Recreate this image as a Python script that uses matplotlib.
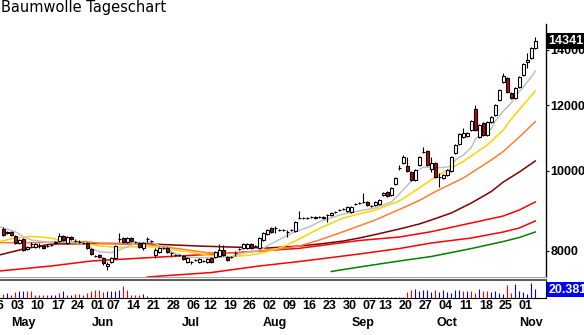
import numpy as np
import pandas as pd
import matplotlib
matplotlib.use("Agg")
import matplotlib.pyplot as plt
from matplotlib.patches import Rectangle
from matplotlib.ticker import NullLocator
from matplotlib.transforms import blended_transform_factory

# trading calendar, US exchange holidays left out
holidays = ["2010-05-31", "2010-07-05", "2010-09-06"]
days = pd.bdate_range("2010-04-26", "2010-11-04")
days = days[~days.isin(pd.to_datetime(holidays))]

# daily OHLC from Apr 28 on
opens = [8503, 8410, 8433, 8339, 8179, 8270, 8043, 8150, 8088, 8110, 8110, 8105, 8130, 8179, 8224, 8339,
         8179, 8316, 8220, 8200, 8179, 8179, 8043, 7890, 7911, 7845, 7673, 7758, 7845, 8265, 8293, 8202,
         8293, 8205, 8179, 8066, 8265, 8220, 7911, 7977, 8060, 8066, 7960, 7915, 7910, 7889, 7758, 7760,
         7800, 7758, 7775, 7758, 7845, 7867, 7889, 8021, 7867, 7865, 7950, 8040, 8066, 8066, 8156, 8110,
         8066, 8247, 8386, 8527, 8525, 8480, 8475, 8430, 8480, 8456, 8765, 8770, 8765, 8790, 8792, 8790,
         8768, 8840, 8841, 8910, 8960, 8985, 8939, 8914, 9110, 9135, 9160, 9166, 9060, 9090, 9115, 9346,
         9424, 9346, 9636, 10070, 10215, 10130, 9962, 9743, 10158, 10530, 10561, 10046, 10215, 9820, 9798, 9880,
         9990, 10503, 10768, 10979, 11009, 11195, 11867, 10979, 11415, 11040, 11446, 11671, 12168, 12792, 12935, 12406,
         12236, 12615, 13043, 13523, 13674, 14060]
highs = [8550, 8456, 8456, 8362, 8270, 8293, 8110, 8202, 8179, 8179, 8133, 8156, 8156, 8224, 8410, 8362,
         8339, 8339, 8270, 8247, 8202, 8202, 8066, 7911, 7933, 7867, 7758, 7867, 8133, 8410, 8316, 8316,
         8316, 8224, 8202, 8202, 8316, 8247, 8066, 8088, 8088, 8088, 7977, 7933, 7933, 7911, 7867, 7780,
         7823, 7845, 7801, 7845, 7867, 7999, 8156, 8133, 7889, 7889, 7999, 8066, 8179, 8179, 8179, 8133,
         8316, 8433, 8503, 8550, 8574, 8503, 8503, 8480, 8503, 8695, 8939, 8792, 8792, 8816, 8816, 8816,
         8816, 8865, 8914, 8939, 8990, 9015, 9065, 9065, 9140, 9166, 9398, 9191, 9090, 9191, 9243, 9424,
         9450, 9556, 9825, 10158, 10444, 10386, 9990, 10046, 10415, 10679, 10590, 10386, 10243, 9935, 9907, 10046,
         10415, 10768, 11102, 11257, 11133, 11510, 12000, 11383, 11446, 11478, 11639, 12034, 12545, 13116, 12971, 12441,
         12615, 13007, 13485, 13865, 14099, 14495]
lows = [8339, 8386, 8339, 8156, 8156, 7999, 8021, 8088, 8066, 8066, 8043, 8088, 8110, 8156, 8202, 8224,
        8156, 8247, 8202, 8179, 8156, 8043, 7911, 7867, 7845, 7694, 7588, 7737, 7823, 8202, 8179, 8179,
        8202, 8179, 8066, 8021, 8202, 8202, 7845, 7955, 8043, 7955, 7867, 7889, 7889, 7801, 7737, 7715,
        7780, 7737, 7758, 7737, 7737, 7845, 7867, 7889, 7780, 7845, 7889, 8021, 8043, 8043, 8043, 8088,
        8043, 8224, 8362, 8410, 8410, 8456, 8456, 8316, 8456, 8433, 8744, 8744, 8744, 8768, 8744, 8768,
        8744, 8671, 8816, 8890, 8939, 8964, 8914, 8890, 9090, 9115, 9140, 9065, 9040, 9065, 9090, 9320,
        9294, 9320, 9609, 10018, 10186, 9962, 9716, 9716, 10130, 10503, 10130, 9962, 9798, 9556, 9771, 9853,
        9962, 10474, 10738, 10948, 10979, 11164, 11164, 10948, 11009, 11009, 11415, 11639, 12134, 12756, 12406, 12202,
        12202, 12580, 13007, 13299, 13636, 14020]
closes = [8362, 8433, 8362, 8179, 8247, 8021, 8088, 8160, 8156, 8115, 8066, 8110, 8133, 8202, 8339, 8247,
          8316, 8270, 8224, 8202, 8175, 8066, 7933, 7889, 7867, 7737, 7715, 7845, 8110, 8270, 8202, 8293,
          8224, 8202, 8088, 8179, 8270, 8224, 8021, 8066, 8066, 7977, 7955, 7911, 7911, 7823, 7845, 7758,
          7801, 7823, 7780, 7823, 7758, 7977, 8021, 7911, 7801, 7867, 7955, 8043, 8156, 8156, 8066, 8110,
          8293, 8410, 8480, 8433, 8527, 8480, 8480, 8433, 8480, 8671, 8768, 8768, 8768, 8792, 8768, 8792,
          8792, 8841, 8890, 8914, 8964, 8990, 9040, 9040, 9115, 9140, 9166, 9090, 9065, 9166, 9217, 9398,
          9320, 9529, 9798, 10074, 10386, 9990, 9743, 10018, 10386, 10532, 10158, 10215, 9825, 9825, 9880, 10018,
          10386, 10738, 11071, 11102, 11102, 11478, 11195, 11351, 11040, 11446, 11607, 12000, 12510, 13007, 12441, 12236,
          12580, 12971, 13448, 13598, 14060, 14341]

# volume in thousand contracts, 'r' / 'b' bar colours
volume = [8.6, 11.2, 5.8, 13.4, 16.1, 15.7, 16.3, 15.5, 7.4, 7.0, 7.3, 6.1, 5.6, 5.9, 10.8, 16.2,
          7.1, 7.4, 8.9, 8.5, 7.3, 11.0, 14.4, 18.3, 17.9, 13.0, 15.8, 16.0, 16.2, 18.4, 25.7, 18.0,
          6.0, 5.7, 6.2, 8.8, 3.6,
          2.3, 2.1, 2.5, 2.2, 2.4, 2.0, 2.3, 2.6, 2.2, 2.1, 2.4, 2.3, 2.0, 2.5, 2.2, 2.3,
          2.1, 2.4, 2.7, 2.2, 2.3, 2.1, 2.5, 2.4, 2.2, 2.0, 2.3, 2.6, 2.4, 2.1, 2.3, 2.5,
          2.2, 2.4, 2.1, 2.3, 2.5, 2.2, 2.0, 2.4, 2.6, 2.3, 2.2, 2.1, 2.5, 2.3, 2.4, 2.2,
          2.7, 2.3, 2.1, 2.4, 2.5, 2.2, 2.3, 2.6, 2.4, 2.1, 2.3, 2.5, 2.2, 2.4, 2.7, 2.5,
          13.1, 16.8, 20.3, 15.3, 16.8, 16.7, 13.0, 18.1, 13.2, 18.2, 13.1, 10.9, 18.0, 16.8, 15.2, 15.4,
          15.3, 10.8, 20.2, 15.3, 15.1, 13.1, 15.4, 10.9, 9.4, 27.7, 10.8, 29.9, 15.3, 13.1, 8.1, 32.7,
          20.381]
vol_colors = ("rbrrbbrrrrrrbbrbrbrrrrrrrrbbbbrrrrrbb"
              "bbbbbbbrrrbbbbbbbbbbbrrrbbbbbbbbbbbbbbbbbrrrrbbbbbbbrrrrrbbbbbbb"
              "rrbbbbbrbbbbbbrbrrbrrbbbbrrbbbbbb")

# moving averages: (day index, value)
ma_gray_d = [1, 5, 7, 9, 14, 19, 23, 24, 26, 29, 31, 34, 36, 39, 41, 44, 47, 51, 54, 59, 62, 66, 70, 74, 79,
             81, 87, 95, 99, 101, 104, 105, 107, 110, 113, 114, 115, 117, 119, 120, 122, 124, 125, 127, 129,
             130, 132, 134, 135]
ma_gray = [8557, 8440, 8323, 8247, 8186, 8209, 8172, 8059, 7984, 7962, 8021, 8133, 8186, 8202, 8122, 7984,
           7874, 7852, 7856, 7874, 7948, 8021, 8209, 8403, 8574, 8678, 8865, 9015, 9166, 9372, 9716, 9962,
           10102, 10074, 10102, 10130, 10300, 10444, 10664, 10918, 11133, 11226, 11478, 11801, 12067, 12304,
           12615, 12971, 13188]
ma_yellow_d = [1, 5, 9, 14, 18, 23, 26, 31, 34, 39, 43, 48, 53, 59, 64, 68, 72, 76, 81, 87, 95, 101, 106,
               110, 117, 123, 127, 129, 132, 135]
ma_yellow = [8213, 8293, 8328, 8293, 8190, 8168, 8110, 8077, 8095, 8095, 8043, 7984, 7911, 7874, 7911, 7984,
             8095, 8270, 8515, 8768, 8964, 9191, 9529, 9825, 10258, 10738, 11195, 11543, 12000, 12475]
ma_orange_d = [1, 9, 18, 23, 26, 34, 39, 47, 53, 59, 64, 70, 76, 81, 87, 95, 101, 106, 110, 117, 124, 127,
               131, 135]
ma_orange = [8186, 8186, 8209, 8209, 8172, 8172, 8133, 8036, 7962, 7948, 7984, 8032, 8110, 8247, 8440, 8719,
             8977, 9204, 9432, 9798, 10300, 10547, 10979, 11456]
ma_darkred_d = [1, 7, 14, 26, 39, 51, 59, 68, 76, 81, 87, 91, 95, 101, 106, 109, 114, 119, 124, 127, 131, 135]
ma_darkred = [7911, 8043, 8156, 8168, 8156, 8110, 8088, 8066, 8110, 8156, 8224, 8293, 8374, 8503, 8623, 8719,
              8890, 9140, 9437, 9689, 9962, 10272]
ma_red1_d = [1, 14, 24, 39, 55, 66, 76, 91, 101, 109, 119, 127, 131, 135]
ma_red1 = [7567, 7673, 7780, 7856, 7933, 7999, 8059, 8236, 8316, 8440, 8647, 8816, 8964, 9166]
ma_red2_d = [38, 54, 66, 76, 81, 91, 101, 109, 119, 127, 131, 135]
ma_red2 = [7442, 7535, 7673, 7769, 7823, 7933, 8054, 8179, 8293, 8433, 8527, 8695]
ma_green_d = [84, 91, 101, 109, 119, 127, 131, 135]
ma_green = [7557, 7651, 7780, 7878, 8054, 8213, 8305, 8433]

fig = plt.figure(figsize=(5.84, 3.35), dpi=100)
ax = fig.add_axes([0, 1 - 277 / 335, 546 / 584, 253 / 335])
axv = fig.add_axes([0, 1 - 298 / 335, 546 / 584, 18 / 335])

xlim = (1.175, 137.675)
lab_font = dict(family="Liberation Sans", fontweight="bold", fontsize=9)

# moving averages under the candles
for d, v, col in [(ma_green_d, ma_green, "#008000"), (ma_red2_d, ma_red2, "#ff0000"),
                  (ma_red1_d, ma_red1, "#ff0000"), (ma_darkred_d, ma_darkred, "#800000"),
                  (ma_orange_d, ma_orange, "#ff7f30"), (ma_yellow_d, ma_yellow, "#ffd200"),
                  (ma_gray_d, ma_gray, "#c0c0c0")]:
    ax.plot(d, v, color=col, lw=1.1, zorder=2, solid_joinstyle="miter")

x = np.arange(2, 2 + len(closes))
for xi, o, h, l, c in zip(x, opens, highs, lows, closes):
    ax.vlines(xi, l, h, color="black", lw=0.8, zorder=3)
    face = "white" if c >= o else "#c80000"
    ax.add_patch(Rectangle((xi - 0.4, min(o, c)), 0.8, abs(c - o), facecolor=face,
                           edgecolor="black", lw=0.8, zorder=4))

ax.set_yscale("log")
ax.set_ylim(7442, 15028)
ax.set_xlim(*xlim)
ax.set_yticks([8000, 10000, 12000, 14000])
ax.set_yticklabels(["8000", "10000", "12000", "14000"])
ax.yaxis.set_minor_locator(NullLocator())
ax.tick_params(axis="y", left=False, labelleft=False, right=True, labelright=True,
               length=2, pad=1, width=0.8)
for t in ax.get_yticklabels():
    t.set(**lab_font)
ax.set_xticks([])
for s in ("left", "top"):
    ax.spines[s].set_visible(False)
ax.spines["bottom"].set_color("#a8a8a8")
ax.spines["right"].set_linewidth(1.0)

trans = blended_transform_factory(ax.transAxes, ax.transData)
ax.text(1.004, closes[-1], f"{closes[-1]}", transform=trans, ha="left", va="center",
        color="white", bbox=dict(boxstyle="square,pad=0.15", fc="black", ec="none"),
        zorder=10, clip_on=False, **lab_font)

# volume panel
xv = np.arange(2, 2 + len(volume))
cmap = {"r": "#ff0000", "b": "#0000ff"}
axv.vlines(xv, 0, volume, colors=[cmap[c] for c in vol_colors], lw=0.8)
axv.set_xlim(*xlim)
axv.set_ylim(0, 39.2)
axv.set_xticks([])
axv.set_yticks([])
axv.spines["left"].set_visible(False)
axv.spines["top"].set_color("#606060")
axv.spines["top"].set_linewidth(1.5)
axv.text(1.004, 0.45, f"{volume[-1]:.3f}", transform=axv.transAxes, ha="left", va="center",
         color="white", bbox=dict(boxstyle="square,pad=0.12", fc="#0000ff", ec="none"),
         zorder=10, clip_on=False, **lab_font)

# weekly day numbers and month names
tr = blended_transform_factory(axv.transData, fig.transFigure)
for i, d in enumerate(days):
    if i == 0 or d.weekday() < days[i - 1].weekday():
        fig.text(i + 0.6, 1 - 306 / 335, f"{d.day:02d}", transform=tr, ha="center", va="center", **lab_font)
    if i == 0 or d.month != days[i - 1].month:
        if d.month == 4:
            continue
        fig.text(i + 1.9, 1 - 323 / 335, d.strftime("%b"), transform=tr, ha="center", va="center", **lab_font)

fig.text(0.002, 1 - 12 / 335, "Baumwolle Tageschart", family="DejaVu Sans", fontsize=10.5, va="baseline")

fig.savefig("out.png", dpi=100)
